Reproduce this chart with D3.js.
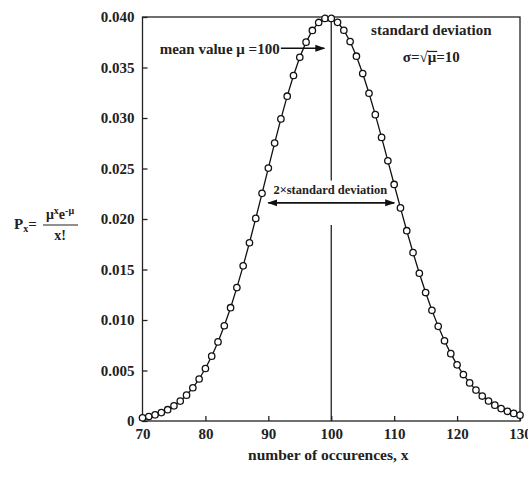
<!DOCTYPE html>
<html>
<head>
<meta charset="utf-8">
<script src="https://cdn.jsdelivr.net/npm/d3@7"></script>
<style>
  body { margin: 0; background: #fff; }
  svg text { font-family: "Liberation Serif", "Times New Roman", serif; font-weight: bold; fill: #222; }
</style>
</head>
<body>
<div class="chart"></div>
<script>
// Data: occurrences x and probability P(x) (mean 100)
const occurrences = [70, 71, 72, 73, 74, 75, 76, 77, 78, 79, 80, 81, 82, 83, 84, 85, 86, 87, 88, 89,
    90, 91, 92, 93, 94, 95, 96, 97, 98, 99, 100, 101, 102, 103, 104, 105, 106, 107, 108, 109,
    110, 111, 112, 113, 114, 115, 116, 117, 118, 119, 120, 121, 122, 123, 124, 125, 126, 127, 128, 129, 130];

const probability = [0.00031, 0.00044, 0.00061, 0.00083, 0.00112, 0.00150, 0.00197, 0.00256, 0.00329, 0.00416,
    0.00520, 0.00642, 0.00783, 0.00943, 0.01122, 0.01321, 0.01536, 0.01765, 0.02006, 0.02254,
    0.02504, 0.02752, 0.02991, 0.03216, 0.03421, 0.03601, 0.03751, 0.03867, 0.03946, 0.03986,
    0.03986, 0.03947, 0.03869, 0.03757, 0.03612, 0.03440, 0.03245, 0.03033, 0.02808, 0.02576,
    0.02342, 0.02110, 0.01884, 0.01667, 0.01463, 0.01272, 0.01096, 0.00937, 0.00794, 0.00667,
    0.00556, 0.00460, 0.00377, 0.00306, 0.00247, 0.00198, 0.00157, 0.00123, 0.00096, 0.00075, 0.00058];

const xTicks = [70, 80, 90, 100, 110, 120, 130];
const yTicks = [0, 0.005, 0.010, 0.015, 0.020, 0.025, 0.030, 0.035, 0.040];

const meanValue = 100;
const sigma = 10;

const data = occurrences.map((x, i) => ({ x: x, p: probability[i] }));

const makePoissonChart = (cls) => {
    const width = 528, height = 480;
    const margin = { top: 17, right: 8, bottom: 59, left: 142.5 };
    const w = width - margin.left - margin.right;
    const h = height - margin.top - margin.bottom;

    const svg = d3.select(`.${cls}`).append("svg")
        .attr("width", width)
        .attr("height", height);

    svg.append("defs").append("marker")
        .attr("id", "head")
        .attr("viewBox", "0 0 10 10")
        .attr("refX", 9).attr("refY", 5)
        .attr("markerWidth", 10).attr("markerHeight", 10)
        .attr("markerUnits", "userSpaceOnUse")
        .attr("orient", "auto-start-reverse")
        .append("path")
        .attr("d", "M0,1.5 L10,5 L0,8.5 Z")
        .attr("fill", "#111");

    const g = svg.append("g")
        .attr("transform", `translate(${margin.left},${margin.top})`);

    const x = d3.scaleLinear().domain([70, 130]).range([0, w]);
    const y = d3.scaleLinear().domain([0, 0.04]).range([h, 0]);

    // frame
    g.append("rect")
        .attr("width", w).attr("height", h)
        .attr("fill", "none")
        .attr("stroke", "#222")
        .attr("stroke-width", 1.3);

    // Axes (ticks point inward)
    const xAxis = g.append("g")
        .attr("transform", `translate(0,${h})`)
        .call(d3.axisBottom(x).tickValues(xTicks).tickSizeInner(-5).tickSizeOuter(0).tickPadding(7)
            .tickFormat(d3.format("d")));

    const yAxis = g.append("g")
        .call(d3.axisLeft(y).tickValues(yTicks).tickSizeInner(-5).tickSizeOuter(0).tickPadding(8)
            .tickFormat(d => d === 0 ? "0" : d3.format(".3f")(d)));

    [xAxis, yAxis].forEach(ax => {
        ax.select(".domain").remove();
        ax.selectAll("line").attr("stroke", "#222").attr("stroke-width", 1.3);
        ax.selectAll("text")
            .attr("fill", "#222")
            .style("font-family", '"Liberation Serif", serif')
            .style("font-weight", "bold")
            .style("font-size", "15px");
    });

    // mean line, broken where the 2 sigma label sits
    const meanSegments = [[0.040, 0.0238], [0.0194, 0]];
    meanSegments.forEach(s => {
        g.append("line")
            .attr("x1", x(meanValue)).attr("x2", x(meanValue))
            .attr("y1", y(s[0])).attr("y2", y(s[1]))
            .attr("stroke", "#222").attr("stroke-width", 1.3);
    });

    // curve
    const line = d3.line().x(d => x(d.x)).y(d => y(d.p));
    g.append("path")
        .datum(data)
        .attr("d", line)
        .attr("fill", "none")
        .attr("stroke", "#111")
        .attr("stroke-width", 1.3);

    g.selectAll("circle.pt")
        .data(data)
        .enter()
        .append("circle")
        .attr("class", "pt")
        .attr("cx", d => x(d.x))
        .attr("cy", d => y(d.p))
        .attr("r", 3.2)
        .attr("fill", "#fff")
        .attr("stroke", "#111")
        .attr("stroke-width", 1.3);

    // mean value annotation
    g.append("text")
        .attr("x", x(91.8)).attr("y", y(0.0369))
        .attr("dy", "0.35em")
        .attr("text-anchor", "end")
        .style("font-size", "15px")
        .text("mean value \u03bc =100");
    g.append("line")
        .attr("x1", x(92.0)).attr("x2", x(98.9))
        .attr("y1", y(0.0369)).attr("y2", y(0.0369))
        .attr("stroke", "#111").attr("stroke-width", 1.6)
        .attr("marker-end", "url(#head)");

    // 2 sigma annotation
    g.append("line")
        .attr("x1", x(meanValue - sigma)).attr("x2", x(meanValue + sigma))
        .attr("y1", y(0.0216)).attr("y2", y(0.0216))
        .attr("stroke", "#111").attr("stroke-width", 1.6)
        .attr("marker-start", "url(#head)")
        .attr("marker-end", "url(#head)");
    g.append("text")
        .attr("x", x(meanValue) - 1).attr("y", y(0.0225))
        .attr("text-anchor", "middle")
        .style("font-size", "12.5px")
        .text("2\u00d7standard deviation");

    // standard deviation note
    g.append("text")
        .attr("x", x(115.9)).attr("y", y(0.0382))
        .attr("text-anchor", "middle")
        .style("font-size", "15px")
        .text("standard deviation");

    const sig = g.append("text")
        .attr("x", x(115.9)).attr("y", y(0.0355))
        .attr("text-anchor", "middle")
        .style("font-size", "15px");
    sig.append("tspan").text("\u03c3=\u221a");
    const mu = sig.append("tspan").text("\u03bc");
    sig.append("tspan").text("=10");
    const mb = mu.node().getBBox();
    g.append("line")
        .attr("x1", mb.x - 0.5).attr("x2", mb.x + mb.width + 0.5)
        .attr("y1", mb.y + 2).attr("y2", mb.y + 2)
        .attr("stroke", "#222").attr("stroke-width", 1.2);

    // x axis title
    svg.append("text")
        .attr("x", margin.left + w / 2 - 3).attr("y", 460)
        .attr("text-anchor", "middle")
        .style("font-size", "15.5px")
        .text("number of occurences, x");

    // y axis formula  P_x = mu^x e^-mu / x!
    const f = svg.append("g").attr("transform", "translate(14,0)");
    const pt = f.append("text").attr("x", 0).attr("y", 229).style("font-size", "15px");
    pt.append("tspan").text("P");
    pt.append("tspan").attr("dy", 3).style("font-size", "10px").text("x");
    pt.append("tspan").attr("dy", -3).text("=");

    const num = f.append("text").attr("x", 46).attr("y", 219)
        .attr("text-anchor", "middle").style("font-size", "14px");
    num.append("tspan").text("\u03bc");
    num.append("tspan").attr("dy", -5).style("font-size", "10px").text("x");
    num.append("tspan").attr("dy", 5).text("e");
    num.append("tspan").attr("dy", -5).style("font-size", "10px").text("-\u03bc");

    f.append("line")
        .attr("x1", 29).attr("x2", 64)
        .attr("y1", 225).attr("y2", 225)
        .attr("stroke", "#222").attr("stroke-width", 1.1);

    f.append("text").attr("x", 46).attr("y", 240)
        .attr("text-anchor", "middle").style("font-size", "14px")
        .text("x!");
};

window.addEventListener("DOMContentLoaded", () => {
    makePoissonChart("chart");
});
</script>
</body>
</html>
